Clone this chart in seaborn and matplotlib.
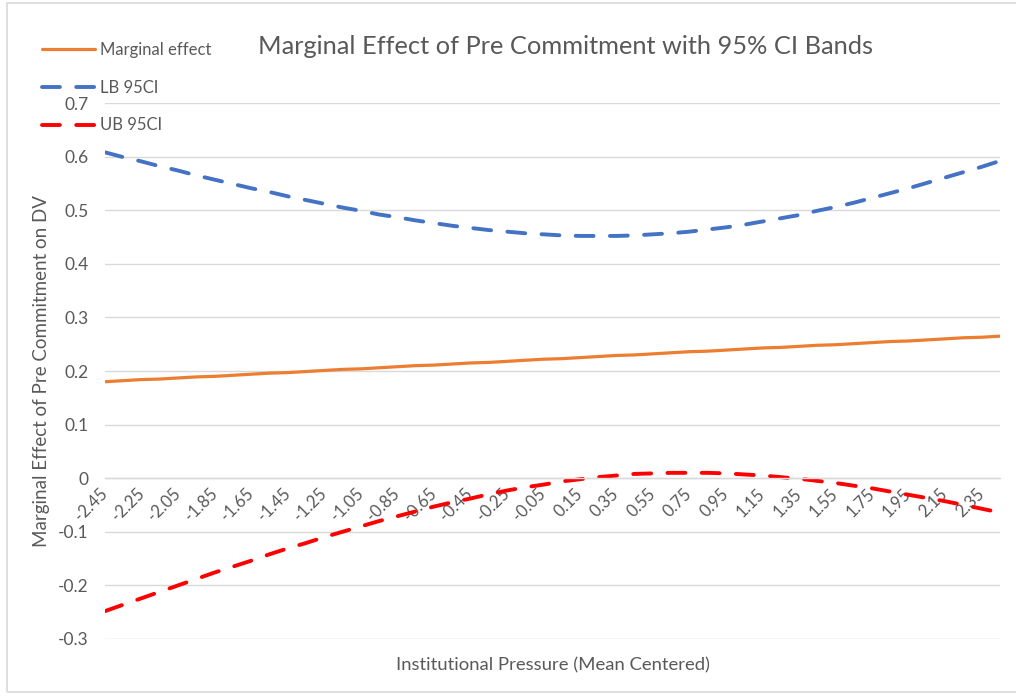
import matplotlib
matplotlib.use("Agg")
import matplotlib.pyplot as plt
from matplotlib.patches import Rectangle
import seaborn as sns
import pandas as pd

# Institutional pressure, mean centered (category axis)
pressure = [-2.45, -2.35, -2.25, -2.15, -2.05, -1.95, -1.85, -1.75, -1.65, -1.55,
            -1.45, -1.35, -1.25, -1.15, -1.05, -0.95, -0.85, -0.75, -0.65, -0.55,
            -0.45, -0.35, -0.25, -0.15, -0.05, 0.05, 0.15, 0.25, 0.35, 0.45,
            0.55, 0.65, 0.75, 0.85, 0.95, 1.05, 1.15, 1.25, 1.35, 1.45,
            1.55, 1.65, 1.75, 1.85, 1.95, 2.05, 2.15, 2.25, 2.35, 2.45]

marginal_effect = [0.180, 0.182, 0.184, 0.185, 0.187, 0.189, 0.190, 0.192, 0.194, 0.196,
                   0.197, 0.199, 0.201, 0.203, 0.204, 0.206, 0.208, 0.210, 0.211, 0.213,
                   0.215, 0.216, 0.218, 0.220, 0.222, 0.223, 0.225, 0.227, 0.229, 0.230,
                   0.232, 0.234, 0.236, 0.237, 0.239, 0.241, 0.243, 0.244, 0.246, 0.248,
                   0.249, 0.251, 0.253, 0.255, 0.256, 0.258, 0.260, 0.262, 0.263, 0.265]

lb_95ci = [0.608, 0.599, 0.591, 0.582, 0.574, 0.565, 0.557, 0.549, 0.541, 0.534,
           0.526, 0.519, 0.512, 0.505, 0.499, 0.492, 0.487, 0.481, 0.476, 0.471,
           0.467, 0.463, 0.460, 0.457, 0.455, 0.453, 0.452, 0.452, 0.452, 0.453,
           0.455, 0.457, 0.460, 0.464, 0.468, 0.473, 0.479, 0.485, 0.491, 0.499,
           0.506, 0.514, 0.523, 0.532, 0.541, 0.551, 0.561, 0.571, 0.581, 0.592]

ub_95ci = [-0.248, -0.236, -0.224, -0.212, -0.200, -0.188, -0.176, -0.165, -0.154, -0.142,
           -0.131, -0.121, -0.110, -0.100, -0.090, -0.080, -0.071, -0.062, -0.053, -0.045,
           -0.038, -0.030, -0.023, -0.017, -0.012, -0.006, -0.002, 0.002, 0.005, 0.008,
           0.009, 0.010, 0.010, 0.010, 0.009, 0.007, 0.005, 0.002, -0.001, -0.005,
           -0.009, -0.014, -0.019, -0.025, -0.031, -0.037, -0.043, -0.050, -0.057, -0.064]

y_ticks = [-0.3, -0.2, -0.1, 0, 0.1, 0.2, 0.3, 0.4, 0.5, 0.6, 0.7]
y_tick_labels = ["-0.3", "-0.2", "-0.1", "0", "0.1", "0.2", "0.3", "0.4", "0.5", "0.6", "0.7"]

title = "Marginal Effect of Pre Commitment with 95% CI Bands"
x_label = "Institutional Pressure (Mean Centered)"
y_label = "Marginal Effect of Pre Commitment on DV"

sns.set_theme(style="white")
plt.rcParams["font.family"] = ["Lato", "DejaVu Sans"]

TEXT = "#595959"
GRID = "#d9d9d9"

df = pd.DataFrame({
    "pressure": pressure,
    "Marginal effect": marginal_effect,
    "LB 95CI": lb_95ci,
    "UB 95CI": ub_95ci,
})

fig = plt.figure(figsize=(10.16, 6.96), dpi=100)
fig.patch.set_facecolor("white")
fig.patches.append(Rectangle((7 / 1016, 4 / 696), 1.2, 689 / 696, transform=fig.transFigure,
                             fill=False, edgecolor=GRID, linewidth=1.2, zorder=0))

ax = fig.add_axes([0.1033, 0.0819, 0.881, 0.7701])

sns.lineplot(data=df, x="pressure", y="Marginal effect", ax=ax, color="#ED7D31",
             linewidth=2.3, label="Marginal effect")
sns.lineplot(data=df, x="pressure", y="LB 95CI", ax=ax, color="#4472C4",
             linewidth=2.8, label="LB 95CI")
sns.lineplot(data=df, x="pressure", y="UB 95CI", ax=ax, color="#FF0000",
             linewidth=2.8, label="UB 95CI")
for line in ax.lines[1:3]:
    line.set_dashes((4.6, 4.2))
    line.set_dash_capstyle("round")

ax.set_xlim(pressure[0], pressure[-1])
ax.set_ylim(-0.3, 0.7)

ax.set_yticks(y_ticks)
ax.set_yticklabels(y_tick_labels)
ax.grid(axis="y", color=GRID, linewidth=1.0)
ax.set_axisbelow(True)

ax.set_xticks(pressure[::2])
ax.set_xticklabels([f"{p:.2f}" for p in pressure[::2]])
ax.set_xticks(pressure, minor=True)

for s in ["top", "right", "left"]:
    ax.spines[s].set_visible(False)
ax.spines["bottom"].set_position(("data", 0))
ax.spines["bottom"].set_color(GRID)
ax.spines["bottom"].set_linewidth(1.0)

ax.tick_params(axis="y", length=0, pad=12, labelsize=12.5, labelcolor=TEXT)
ax.tick_params(axis="x", which="both", direction="inout", length=5, width=1.0,
               color=GRID, labelsize=12, labelcolor=TEXT, pad=7)
for lbl in ax.get_xticklabels():
    lbl.set_rotation(45)
    lbl.set_rotation_mode("anchor")
    lbl.set_ha("right")
    lbl.set_va("center")

ax.set_xlabel("")
ax.set_ylabel("")
fig.text(553 / 1016, 1 - 665 / 696, x_label, ha="center", va="center",
         fontsize=13.3, color=TEXT)
fig.text(42 / 1016, 1 - 371 / 696, y_label, ha="center", va="center",
         rotation=90, fontsize=13.5, color=TEXT)
fig.text(565 / 1016, 1 - 47 / 696, title, ha="center", va="center",
         fontsize=18.3, color=TEXT)

leg = ax.legend(loc="upper left", bbox_to_anchor=(42 / 1016, 1 - 42 / 696),
                bbox_transform=fig.transFigure, frameon=False, fontsize=12,
                handlelength=3.2, handletextpad=0.3, labelspacing=1.3,
                borderaxespad=0, borderpad=0)
for t in leg.get_texts():
    t.set_color(TEXT)

fig.savefig("out.png", dpi=100, facecolor="white")
